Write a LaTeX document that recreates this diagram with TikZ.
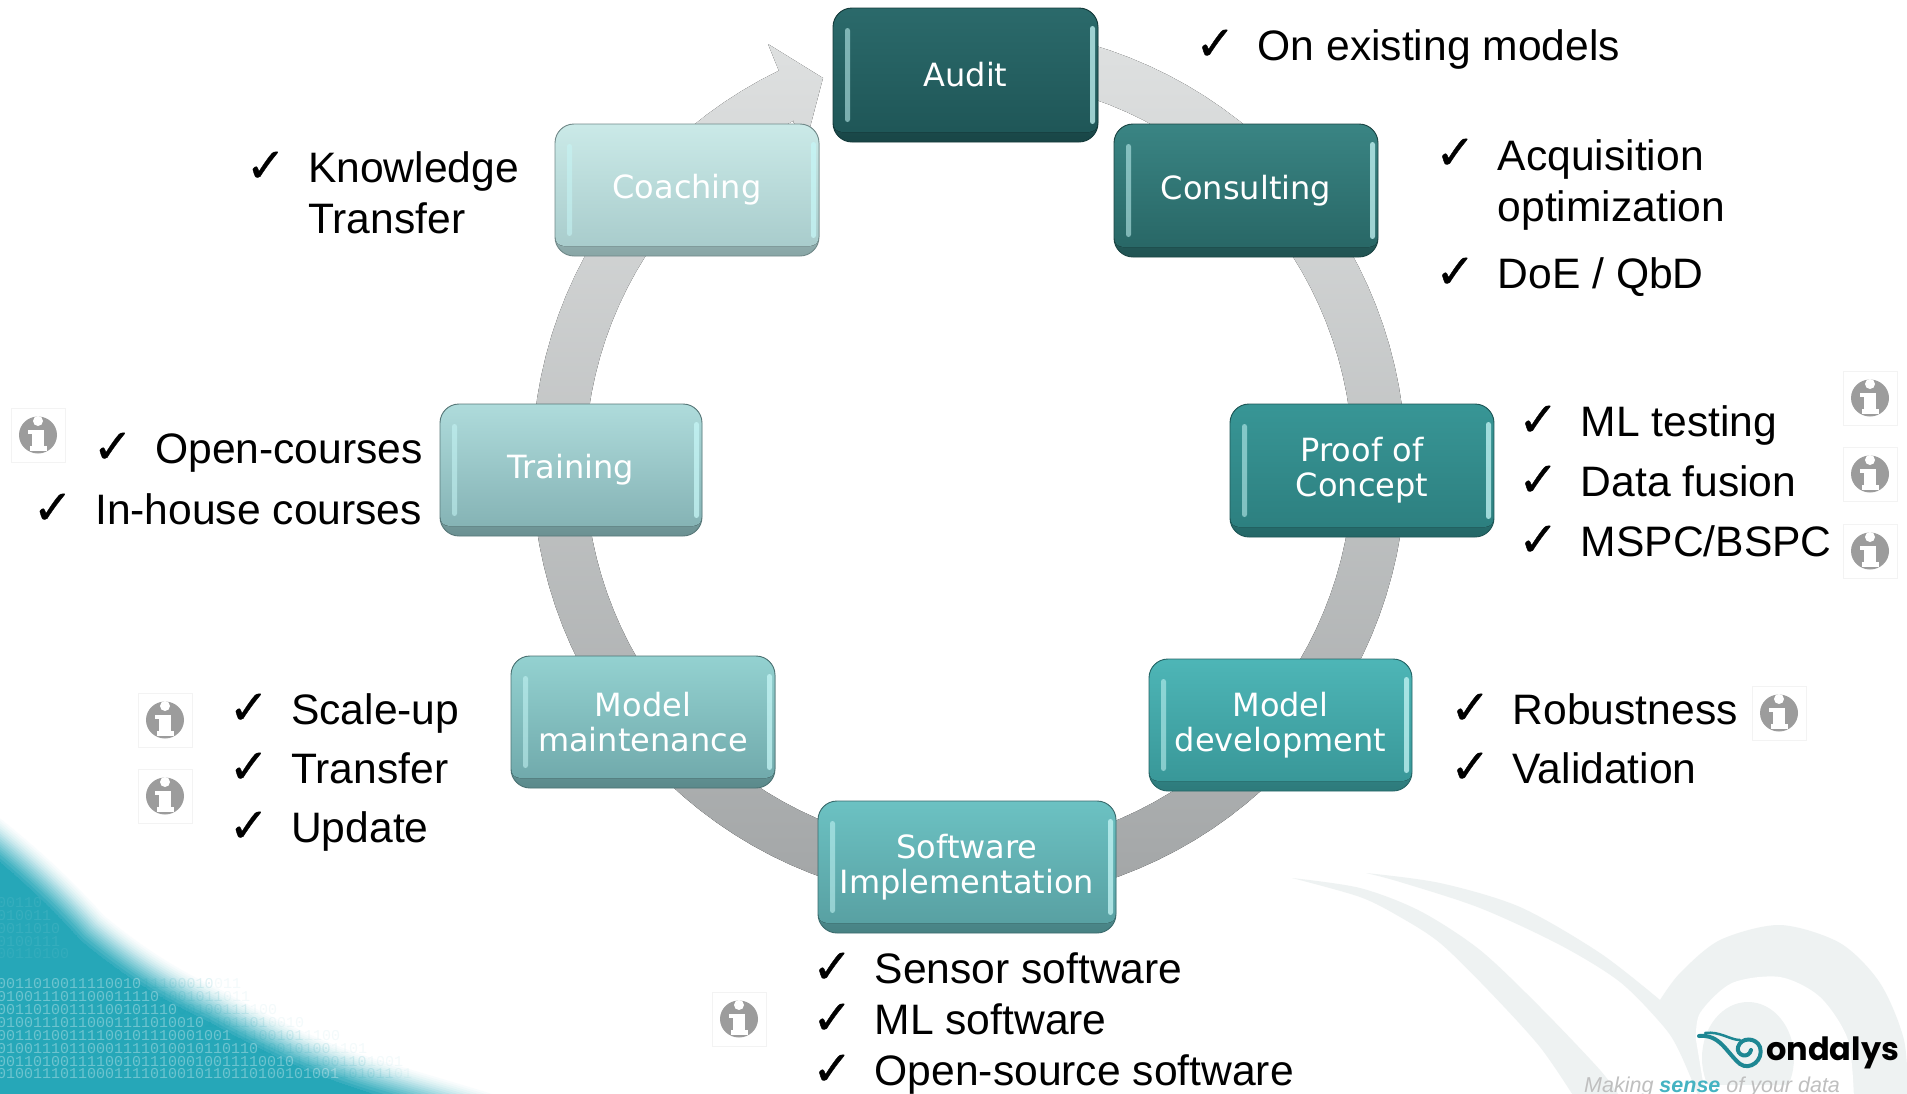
\documentclass[tikz,border=0pt]{standalone}
\usepackage{fontspec}
\setmainfont{Liberation Sans}
\newfontfamily\boxfont{DejaVu Sans}
\newfontfamily\chkfont[FakeBold=.8]{DejaVu Sans}
\newfontfamily\logofont{Poppins}
\newfontfamily\binfont{Liberation Mono}
\usetikzlibrary{calc,shapes.geometric}
\definecolor{teal0}{HTML}{16A0B3}
\definecolor{wm}{HTML}{EEF2F2}
\definecolor{logoteal}{HTML}{1E8793}
\definecolor{icongray}{HTML}{9C9C9C}
\definecolor{iconedge}{HTML}{F3F3F3}
\definecolor{barlight}{HTML}{C6F6F6}
\definecolor{ringT}{HTML}{DFE1E1}
\definecolor{ringM}{HTML}{BFC2C3}
\definecolor{ringB}{HTML}{A2A5A6}
\definecolor{aT}{HTML}{2B6A6B}\definecolor{aB}{HTML}{1E5556}
\definecolor{cT}{HTML}{3A8584}\definecolor{cB}{HTML}{276564}
\definecolor{pT}{HTML}{389696}\definecolor{pB}{HTML}{2C7E7E}
\definecolor{dT}{HTML}{4EB6B7}\definecolor{dB}{HTML}{379596}
\definecolor{sT}{HTML}{6CC2C3}\definecolor{sB}{HTML}{579EA0}
\definecolor{mT}{HTML}{94D2D1}\definecolor{mB}{HTML}{6EA7A9}
\definecolor{tT}{HTML}{AFDCDC}\definecolor{tB}{HTML}{82B0B2}
\definecolor{hT}{HTML}{CBEAE8}\definecolor{hB}{HTML}{A6CACA}
\newcommand{\gbox}[8]{%
  \node[boxbase,minimum width={(#4-#2)*1pt},minimum height={(#5-#3)*1pt},
    top color=#6,bottom color=#7!82!black,draw=#7!68!black,
    path picture={
      \fill[top color=#6,bottom color=#7,rounded corners=9pt]
        ([shift={(0pt,2pt)}]path picture bounding box.north west) rectangle
        ([shift={(0pt,10pt)}]path picture bounding box.south east);
      \fill[barlight,opacity=.55,rounded corners=2.5pt]
        ([shift={(12pt,-20pt)}]path picture bounding box.north west) rectangle
        ([shift={(17pt,20pt)}]path picture bounding box.south west);
      \fill[barlight,opacity=.75,rounded corners=2.5pt]
        ([shift={(-8pt,-18pt)}]path picture bounding box.north east) rectangle
        ([shift={(-3pt,18pt)}]path picture bounding box.south east);
    }] (#1) at ({(#2+#4)/2},{(#3+#5)/2}) {#8};}
\newcommand{\litem}[4]{%
  \node[chk] (#1c) at (#2-64,#3-1) {✓};
  \node[lab] (#1) at (#2-1.5,#3-1) {#4};}
\newcommand{\litemm}[5]{%
  \node[chk] (#1c) at (#2-64,#5-1) {✓};
  \node[lab] (#1) at (#2-1.5,#3-1) {#4};}
\newcommand{\infoicon}[3]{%
  \draw[iconedge,line width=.8pt,fill=white] (#2-27,#3-27) rectangle (#2+27,#3+27);
  \fill[icongray] (#2,#3) circle [x radius=19,y radius=18.5];
  \fill[white] (#2,#3-14) circle [radius=5];
  \fill[white] (#2-10,#3-5) rectangle (#2+6,#3-1);
  \fill[white] (#2-6,#3-5) rectangle (#2+6,#3+12);
  \fill[white] (#2-8.5,#3+11) rectangle (#2+9,#3+15.5);
  \coordinate (#1) at (#2,#3);}
\newcommand{\binline}[5]{%
  \node[bin,text=white,opacity=.33] (#1a) at (-3,#2) {#3};
  \node[bin,text=teal0,opacity=.13] (#1b) at (#1a.base east) {#4};
  \node[bin,text=teal0,opacity=.05] (#1c) at (#1b.base east) {#5};}
\tikzset{
  boxbase/.style={rectangle,rounded corners=19pt,line width=.9pt,text=white,align=center,inner sep=0pt,
    font=\boxfont\fontsize{32}{35}\selectfont},
  lab/.style={anchor=base west,inner sep=0pt,text=black,align=left,font=\fontsize{42.6}{51}\selectfont},
  chk/.style={anchor=base west,inner sep=0pt,text=black,font=\chkfont\fontsize{48}{48}\selectfont},
  bin/.style={anchor=base west,inner sep=0pt,font=\binfont\fontsize{15}{15}\selectfont},
}
\begin{document}
\begin{tikzpicture}[x=1pt,y=-1pt]
\useasboundingbox (0,0) rectangle (1907,1093);
\fill[white] (0,0) rectangle (1907,1093);
\begin{scope}
\clip (0,0) rectangle (1907,1093);
% watermark swirl
\fill[wm] plot[smooth] coordinates {(1292,878) (1360,888) (1420,911) (1480,950) (1540,1007) (1600,1070) (1622,1100)}
  -- plot[smooth] coordinates {(1576,1100) (1540,1047) (1488,990) (1440,943) (1400,917) (1360,897) (1292,878)} -- cycle;
\fill[wm] plot[smooth] coordinates {(1366,873) (1440,883) (1520,907) (1600,953) (1660,1000)}
  -- plot[smooth] coordinates {(1660,1000) (1680,973) (1720,940) (1780,925) (1840,943) (1880,983) (1904,1040) (1908,1100)}
  -- (1700,1100)
  -- plot[smooth] coordinates {(1700,1100) (1680,1053) (1664,1027) (1620,982) (1560,945) (1480,908) (1400,882) (1366,873)} -- cycle;
\fill[white] plot[smooth] coordinates {(1696,1040) (1700,1013) (1732,983) (1780,977) (1820,997) (1848,1040) (1854,1100)} -- (1706,1100) -- cycle;
\fill[wm] (1748,1058) circle [x radius=46,y radius=56];
\fill[white] (1790,1100) -- (1700,1100) -- (1700,1085) -- (1800,1085) -- cycle;
% teal corner, soft edge
\foreach \w/\p in {68/3,64/6,60/10,56/14,52/19,48/24,44/30,40/36,36/42,32/48,28/54,24/60,20/66,16/72,12/79,6/86,0/93}{
  \fill[teal0!\p!white] (-60,815)
    .. controls (0,860) and (40,895) .. (80,940)
    .. controls (110,965) and (150,995) .. (205,1020)
    .. controls (260,1050) and (310,1075) .. (370,1093)
    .. controls (420,1108) and (480,1125) .. (540,1145)
    -- (-60,1160) -- cycle;
  \draw[teal0!\p!white,line width=\w pt,line join=round] (-60,815)
    .. controls (0,860) and (40,895) .. (80,940)
    .. controls (110,965) and (150,995) .. (205,1020)
    .. controls (260,1050) and (310,1075) .. (370,1093)
    .. controls (420,1108) and (480,1125) .. (540,1145);
}
\node[bin,text=white,opacity=.07] (bina) at (-3,907) {00110};
\node[bin,text=white,opacity=.08] (binb) at (-3,920) {010011};
\node[bin,text=white,opacity=.08] (binc) at (-3,933) {0011010};
\node[bin,text=white,opacity=.07] (bind) at (-3,946) {0100111};
\node[bin,text=white,opacity=.06] (bine) at (-3,958) {00110100};
\binline{f}{988}{0011010011110010}{11100010}{011}
\binline{g}{1001}{010011101100011110}{1001011}{011}
\binline{h}{1014}{00110100111100101110}{00100111}{100}
\binline{i}{1027}{01001110110001111010010}{1101101}{0010}
\binline{j}{1040}{00110100111100101110001001}{11100101}{1100}
\binline{k}{1053}{01001110110001111010010110110}{10010100}{1101}
\binline{l}{1066}{001101001111001011100010011110010}{11100110}{1001}
\binline{m}{1078}{01001110110001111010010110110100101001}{101011}{01}
\end{scope}
% ring arrow
\fill[top color=ringT,middle color=ringM,bottom color=ringB,shading angle=0]
  plot[domain=5:334.2,samples=120,variable=\t] ({969+437*sin(\t)},{465-438*cos(\t)})
  -- (768,44) -- (823,78) -- (808,135) -- (793,122)
  -- plot[domain=333:5,samples=120,variable=\t] ({969+384*sin(\t)},{464-386*cos(\t)}) -- cycle;
% boxes
\gbox{audit}{833}{8}{1098}{142}{aT}{aB}{Audit}
\gbox{consulting}{1114}{124}{1378}{257}{cT}{cB}{Consulting}
\gbox{proof}{1230}{404}{1494}{537}{pT}{pB}{Proof of\\Concept}
\gbox{dev}{1149}{659}{1412}{791}{dT}{dB}{Model\\development}
\gbox{soft}{818}{801}{1116}{933}{sT}{sB}{Software\\Implementation}
\gbox{maint}{511}{656}{775}{788}{mT}{mB}{Model\\maintenance}
\gbox{training}{440}{404}{702}{536}{tT}{tB}{Training}
\gbox{coaching}{555}{124}{819}{256}{hT}{hB}{Coaching}
% lists
\litem{l1}{1259}{61}{On existing models}
\litemm{l2}{1499}{222}{Acquisition\\optimization}{170}
\litem{l3}{1499}{289}{DoE / QbD}
\litemm{l4}{309.5}{234}{Knowledge\\Transfer}{183}
\litem{l5}{1582}{437}{ML testing}
\litem{l6}{1582}{497}{Data fusion}
\litem{l7}{1582}{557}{MSPC/BSPC}
\litem{l8}{156.5}{464}{Open-courses}
\litem{l9}{96.5}{525}{In-house courses}
\litem{l10}{1514}{725}{Robustness}
\litem{l11}{1514}{784}{Validation}
\litem{l12}{292.5}{725}{Scale-up}
\litem{l13}{292.5}{784}{Transfer}
\litem{l14}{292.5}{843}{Update}
\litem{l15}{876}{984}{Sensor software}
\litem{l16}{876}{1035}{ML software}
\litem{l17}{876}{1086}{Open-source software}
% info icons
\infoicon{i1}{38}{435}
\infoicon{i2}{1870}{398}
\infoicon{i3}{1870}{474}
\infoicon{i4}{1870}{551}
\infoicon{i5}{1779}{713}
\infoicon{i6}{165}{720}
\infoicon{i7}{165}{796}
\infoicon{i8}{739}{1019}
% logo
\begin{scope}
\clip (0,0) rectangle (1907,1093);
\draw[logoteal,line width=4pt,line cap=round] (1699,1036)
  .. controls (1720,1034) and (1726,1052) .. (1740,1064)
  .. controls (1750,1071) and (1764,1060) .. (1760,1047)
  .. controls (1756,1037) and (1741,1037) .. (1738,1047)
  .. controls (1736,1056) and (1749,1059) .. (1751,1050);
\draw[logoteal,line width=2.5pt,line cap=round] (1705,1033)
  .. controls (1720,1031) and (1730,1040) .. (1740,1040);
\node[anchor=base west,inner sep=0pt,text=black,font=\logofont\bfseries\fontsize{32}{32}\selectfont] (logo) at (1766,1060) {ondalys};
\node[anchor=base west,inner sep=0pt,text=black!25,font=\itshape\fontsize{21.5}{22}\selectfont] (tag) at (1584,1092)
  {Making \textcolor{teal0!80!white}{\bfseries sense} of your data};
\end{scope}
\end{tikzpicture}
\end{document}
